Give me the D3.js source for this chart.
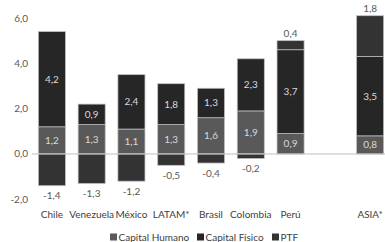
<!DOCTYPE html>
<html>
<head>
<meta charset="utf-8">
<script src="https://cdn.jsdelivr.net/npm/d3@7"></script>
<style>
  body { margin: 0; background: #fff; }
  svg { display: block; font-family: Lato, "Open Sans", sans-serif; }
</style>
</head>
<body>
<svg id="chart"></svg>
<script>
// data (blank slot between Perú and ASIA)
const categories = ["Chile", "Venezuela", "México", "LATAM*", "Brasil", "Colombia", "Perú", "", "ASIA*"];
const capitalHumano = [1.2, 1.3, 1.1, 1.3, 1.6, 1.9, 0.9, null, 0.8];
const capitalFisico = [4.2, 0.9, 2.4, 1.8, 1.3, 2.3, 3.7, null, 3.5];
const ptf = [-1.4, -1.3, -1.2, -0.5, -0.4, -0.2, 0.4, null, 1.8];
const yTicks = [-2, 0, 2, 4, 6];

const keys = ["ch", "cf", "ptf"];
const names = { ch: "Capital Humano", cf: "Capital Físico", ptf: "PTF" };
const colors = { ch: "#595959", cf: "#262626", ptf: "#333333" };

const rows = categories.map((c, i) => ({
    cat: c,
    ch: capitalHumano[i] || 0,
    cf: capitalFisico[i] || 0,
    ptf: ptf[i] || 0,
    empty: capitalHumano[i] == null
}));

const svgWidth = 385, svgHeight = 242;
const svg = d3.select("#chart").attr("width", svgWidth).attr("height", svgHeight);

const fmt = v => d3.format(".1f")(v).replace(".", ",").replace("−", "-");
const fs = 10;

const x = d3.scaleBand().domain(categories.map((c, i) => i)).range([32, 390]).paddingInner(0.32).paddingOuter(0.16);
const y = d3.scaleLinear().domain([-2, 6]).range([199.3, 18]);

// y labels
svg.append("g").selectAll("text")
    .data(yTicks)
    .join("text")
    .attr("x", 28)
    .attr("y", d => y(d))
    .attr("dy", "0.35em")
    .attr("text-anchor", "end")
    .attr("font-size", fs)
    .attr("fill", "#595959")
    .text(d => fmt(d));

const stack = d3.stack().keys(keys).offset(d3.stackOffsetDiverging);
const series = stack(rows);

svg.append("g").selectAll("g")
    .data(series)
    .join("g")
    .attr("fill", d => colors[d.key])
    .selectAll("rect")
    .data(d => d.filter(p => !p.data.empty))
    .join("rect")
    .attr("x", d => x(categories.indexOf(d.data.cat)))
    .attr("width", x.bandwidth())
    .attr("y", d => y(Math.max(d[0], d[1])))
    .attr("height", d => Math.abs(y(d[0]) - y(d[1])))
    .attr("stroke", "#bfbfbf")
    .attr("stroke-width", 0.75);

// zero line
svg.append("line")
    .attr("x1", 32).attr("x2", svgWidth)
    .attr("y1", y(0)).attr("y2", y(0))
    .attr("stroke", "#bfbfbf")
    .attr("stroke-width", 1);

// labels inside bars
const inside = series.filter(s => s.key !== "ptf");
inside.forEach(s => {
    svg.append("g").selectAll("text")
        .data(s.filter(p => !p.data.empty))
        .join("text")
        .attr("x", d => x(categories.indexOf(d.data.cat)) + x.bandwidth() / 2)
        .attr("y", d => y((d[0] + d[1]) / 2))
        .attr("dy", "0.35em")
        .attr("text-anchor", "middle")
        .attr("font-size", fs)
        .attr("fill", "#d9d9d9")
        .text(d => fmt(d.data[s.key]));
});

// PTF labels outside
const ptfSeries = series.find(s => s.key === "ptf");
svg.append("g").selectAll("text")
    .data(ptfSeries.filter(p => !p.data.empty))
    .join("text")
    .attr("x", d => x(categories.indexOf(d.data.cat)) + x.bandwidth() / 2)
    .attr("y", d => d.data.ptf < 0 ? y(d[0]) + 10 : y(d[1]) - 7)
    .attr("dy", "0.35em")
    .attr("text-anchor", "middle")
    .attr("font-size", fs)
    .attr("fill", "#595959")
    .text(d => fmt(d.data.ptf));

// category labels
svg.append("g").selectAll("text")
    .data(categories)
    .join("text")
    .attr("x", (d, i) => x(i) + x.bandwidth() / 2)
    .attr("y", 214)
    .attr("dy", "0.35em")
    .attr("text-anchor", "middle")
    .attr("font-size", fs)
    .attr("fill", "#404040")
    .text(d => d);

// legend
const legendX = { ch: 110, cf: 197, ptf: 272 };
const leg = svg.append("g").selectAll("g")
    .data(keys)
    .join("g")
    .attr("transform", d => "translate(" + legendX[d] + ",237)");
leg.append("rect")
    .attr("x", 0).attr("y", -3.5)
    .attr("width", 7).attr("height", 7)
    .attr("fill", d => colors[d]);
leg.append("text")
    .attr("x", 8.5)
    .attr("dy", "0.35em")
    .attr("font-size", fs)
    .attr("fill", "#404040")
    .text(d => names[d]);
</script>
</body>
</html>
